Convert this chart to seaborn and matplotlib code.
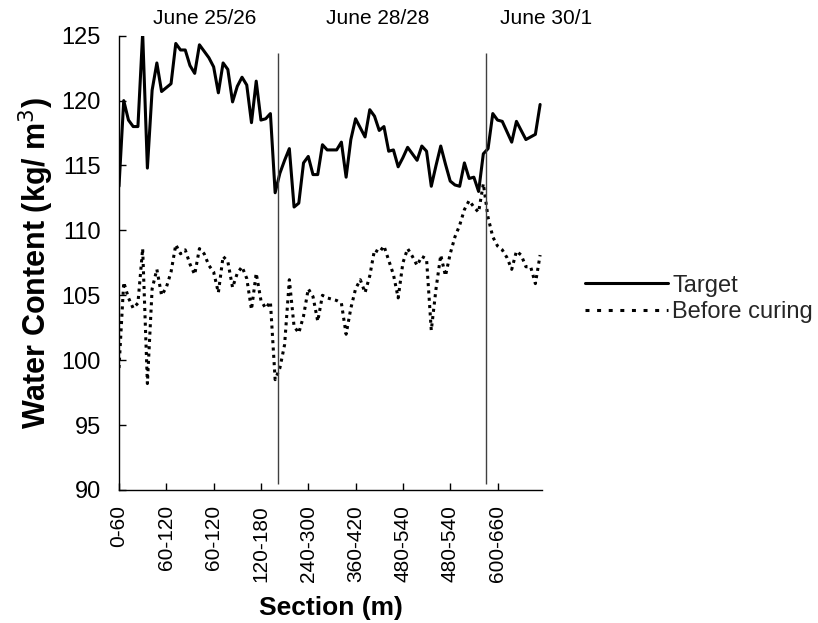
import matplotlib
matplotlib.use("Agg")
import matplotlib.pyplot as plt
from matplotlib.lines import Line2D
import numpy as np
import pandas as pd
import seaborn as sns

# Water content per sampling position along the pavement (kg/m^3)
target = [
    113.4, 120.0, 118.5, 118.0, 118.0, 125.2, 114.8, 120.8, 122.9, 120.7,
    121.0, 121.3, 124.4, 123.9, 123.9, 122.7, 122.1, 124.3, 123.8, 123.3,
    122.6, 120.6, 122.9, 122.4, 119.9, 121.1, 121.8, 121.2, 118.3, 121.5,
    118.5, 118.6, 119.0, 112.9, 114.4, 115.4, 116.3, 111.8, 112.1, 115.2,
    115.7, 114.3, 114.3, 116.6, 116.2, 116.2, 116.2, 116.8, 114.1, 117.0,
    118.6, 117.9, 117.2, 119.3, 118.8, 117.7, 118.0, 116.1, 116.2, 114.9,
    115.6, 116.4, 115.9, 115.4, 116.5, 116.1, 113.4, 115.0, 116.5, 115.1,
    113.8, 113.5, 113.4, 115.2, 114.0, 114.1, 113.0, 115.9, 116.3, 119.0,
    118.5, 118.4, 117.6, 116.8, 118.4, 117.7, 117.0, 117.2, 117.4, 119.7,
]
before_curing = [
    99.4, 106.0, 104.8, 104.0, 104.4, 108.6, 98.2, 105.5, 107.0, 105.0,
    105.6, 106.8, 108.9, 108.2, 108.5, 107.4, 106.6, 108.6, 108.2, 107.3,
    106.8, 105.2, 108.0, 107.6, 105.6, 106.7, 107.2, 106.3, 103.9, 106.7,
    104.6, 104.0, 104.5, 98.5, 99.4, 101.2, 106.2, 102.6, 102.1, 103.4,
    105.5, 104.9, 103.0, 105.0, 104.8, 104.7, 104.6, 104.4, 102.0, 104.0,
    105.5, 106.2, 105.2, 106.5, 108.5, 108.3, 108.8, 107.7, 106.6, 104.8,
    107.5, 108.6, 108.0, 107.3, 108.0, 107.8, 102.3, 105.5, 108.1, 106.5,
    108.2, 109.5, 110.4, 111.6, 112.3, 111.8, 111.4, 113.6, 111.0, 109.5,
    108.8, 108.5, 107.9, 107.0, 108.4, 108.1, 107.2, 107.2, 105.9, 108.1,
]
section_labels = ["0-60", "60-120", "60-120", "120-180", "240-300",
                  "360-420", "480-540", "480-540", "600-660"]
day_labels = ["June 25/26", "June 28/28", "June 30/1"]
day_breaks = [33.5, 77.5]

position = np.arange(len(target))
df = pd.DataFrame({"position": position, "Target": target,
                   "Before curing": before_curing})

sns.set_theme(style="white")
plt.rcParams["font.family"] = ["Liberation Sans", "DejaVu Sans"]

fig = plt.figure(figsize=(8.18, 6.23), dpi=100)
ax = fig.add_axes([119 / 818, 1 - 490 / 623, 423 / 818, 454.3 / 623])

dot_dash = (1.0, 1.4)
sns.lineplot(data=df, x="position", y="Target", ax=ax, color="black",
             linewidth=2.2, legend=False)
sns.lineplot(data=df, x="position", y="Before curing", ax=ax, color="black",
             linewidth=2.2, dashes=False, legend=False)
ax.lines[-1].set_dashes(dot_dash)

# day boundaries
ax.vlines(day_breaks, 90.5, 123.7, color="#404040", linewidth=1.0)

ax.set_xlim(0, 89.4)
ax.set_ylim(90, 125)
ax.set_xticks(np.arange(0, 90, 10))
ax.set_xticklabels(section_labels, rotation=90, fontsize=15)
ax.set_yticks(np.arange(90, 126, 5))
ax.tick_params(axis="y", labelsize=17, direction="in", length=5, width=1,
               pad=13, left=True, color="black")
ax.tick_params(axis="x", direction="in", length=5, width=1, pad=11,
               bottom=True, color="black")
for lbl in ax.get_yticklabels() + ax.get_xticklabels():
    lbl.set_color("black")

for side in ["top", "right"]:
    ax.spines[side].set_visible(False)
for side in ["left", "bottom"]:
    ax.spines[side].set_color("black")
    ax.spines[side].set_linewidth(1.0)

ax.set_xlabel("Section (m)", fontsize=19, fontweight="bold", color="black")
ax.xaxis.set_label_coords(0.5, (490 - 608) / 454.3)
ax.xaxis.label.set_va("center")
ax.set_ylabel("Water Content (kg/ m$^{3}$)", fontsize=22, fontweight="bold",
              color="black")
ax.yaxis.set_label_coords((36 - 119) / 423, 0.5)
ax.yaxis.label.set_va("center")

# day captions above the plot
fig.text(204.5 / 818, 1 - 19 / 623, day_labels[0], ha="center", va="center",
         fontsize=15, color="black")
fig.text(378 / 818, 1 - 19 / 623, day_labels[1], ha="center", va="center",
         fontsize=15, color="black")
fig.text(500 / 818, 1 - 19 / 623, day_labels[2], ha="left", va="center",
         fontsize=15, color="black")

handles = [Line2D([], [], color="black", linewidth=2.2),
           Line2D([], [], color="black", linewidth=2.2, dashes=(1.3, 2.5))]
fig.legend(handles, ["Target", "Before curing"], loc="center left",
           bbox_to_anchor=(585 / 818, 1 - 299 / 623), frameon=False,
           fontsize=17, handlelength=3.5, handletextpad=0.2,
           labelspacing=0.2, borderpad=0, borderaxespad=0)

fig.savefig("out.png", dpi=100)
